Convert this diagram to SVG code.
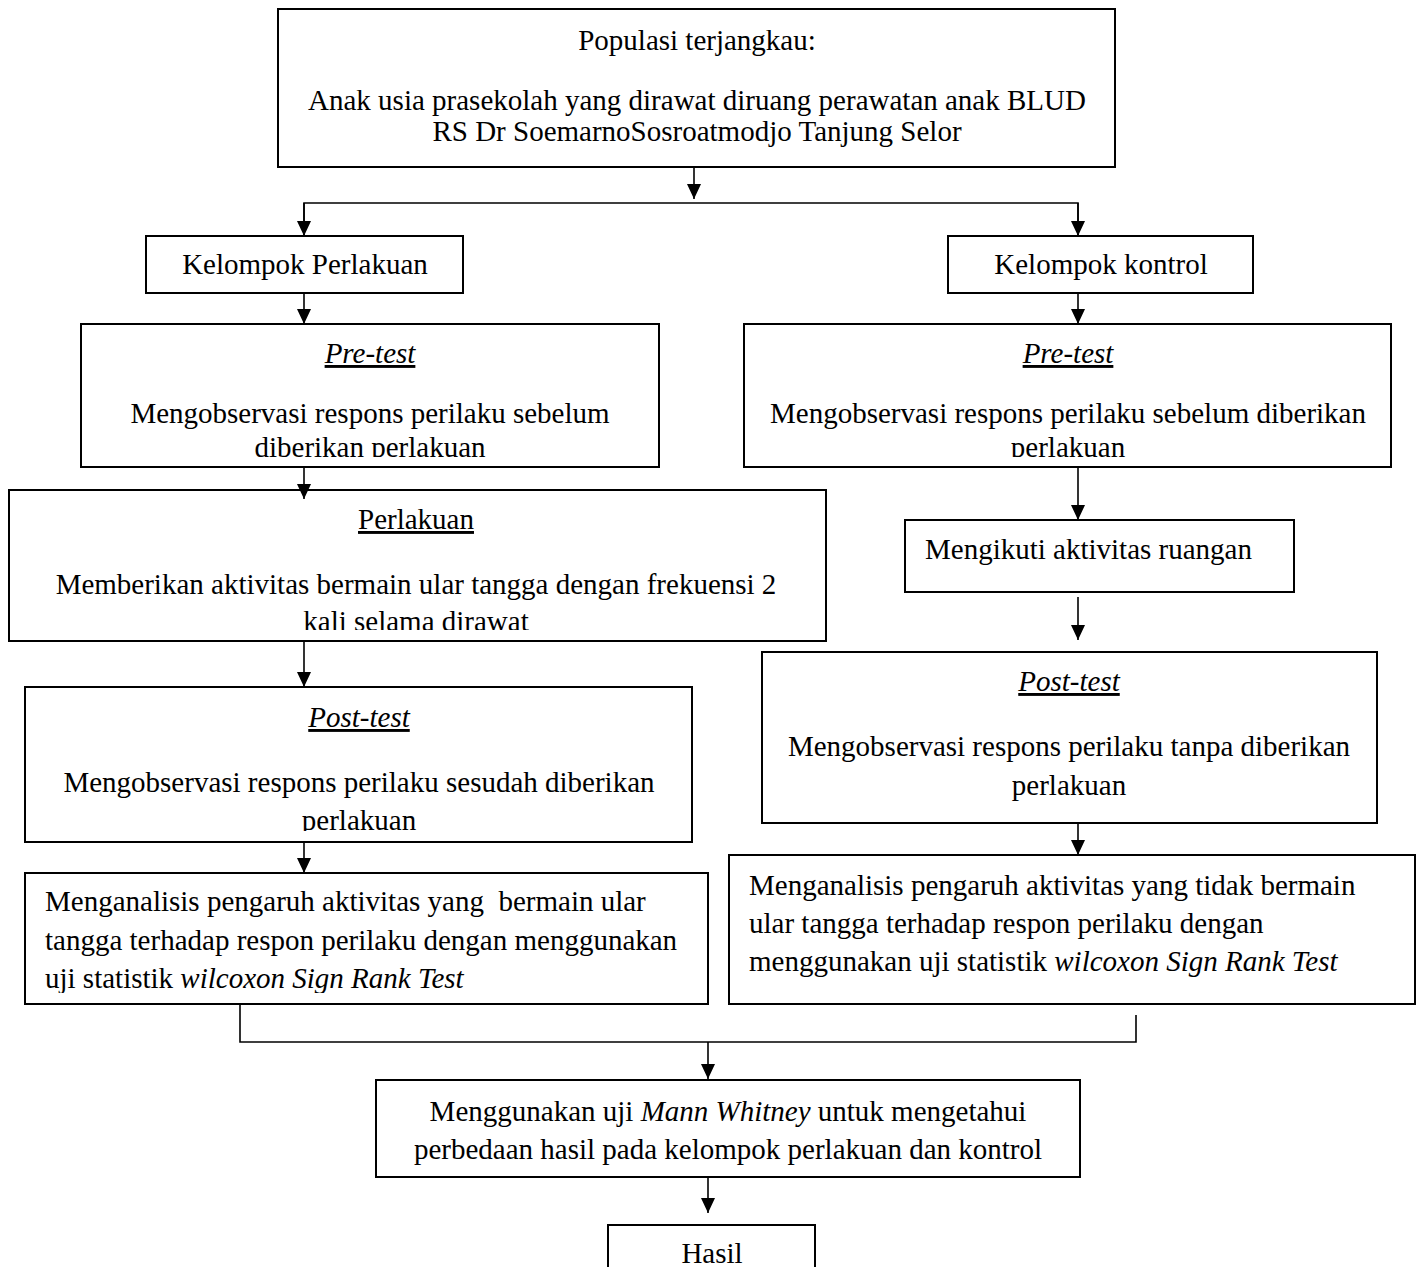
<svg xmlns="http://www.w3.org/2000/svg" width="1419" height="1267" viewBox="0 0 1419 1267">
<style>
.box{fill:#fff;stroke:#000;stroke-width:2}
.t{font-family:"Liberation Serif","Times New Roman",serif;font-size:29px;fill:#000}
.c{text-anchor:middle}
.i{font-style:italic}
.u{text-decoration:underline}
.pre{white-space:pre}
.ln{fill:none;stroke:#000;stroke-width:1.6}
</style>
<defs>
<marker id="ah" markerUnits="userSpaceOnUse" markerWidth="16" markerHeight="16" refX="15" refY="7" orient="auto">
<path d="M0,0 L15,7 L0,14 z" fill="#000"/>
</marker>
<clipPath id="cp1"><rect x="0" y="0" width="1419" height="457"/></clipPath>
<clipPath id="cp2"><rect x="0" y="0" width="1419" height="630"/></clipPath>
<clipPath id="cp3"><rect x="0" y="0" width="1419" height="831"/></clipPath>
<clipPath id="cp4"><rect x="0" y="0" width="1419" height="993"/></clipPath>
</defs>
<rect width="1419" height="1267" fill="#fff"/>

<g id="connectors">
<line class="ln" x1="694" y1="167" x2="694" y2="199" marker-end="url(#ah)"/>
<polyline class="ln" points="304,236 304,203 1078,203 1078,236"/>
<line class="ln" x1="304" y1="203" x2="304" y2="236" marker-end="url(#ah)"/>
<line class="ln" x1="1078" y1="203" x2="1078" y2="236" marker-end="url(#ah)"/>
<line class="ln" x1="304" y1="293" x2="304" y2="324" marker-end="url(#ah)"/>
<line class="ln" x1="1078" y1="293" x2="1078" y2="324" marker-end="url(#ah)"/>
<line class="ln" x1="1078" y1="467" x2="1078" y2="520" marker-end="url(#ah)"/>
<line class="ln" x1="304" y1="641" x2="304" y2="687" marker-end="url(#ah)"/>
<line class="ln" x1="1078" y1="597" x2="1078" y2="640" marker-end="url(#ah)"/>
<line class="ln" x1="304" y1="842" x2="304" y2="873" marker-end="url(#ah)"/>
<line class="ln" x1="1078" y1="823" x2="1078" y2="855" marker-end="url(#ah)"/>
<polyline class="ln" points="240,1004 240,1042 1136,1042 1136,1015"/>
<line class="ln" x1="708" y1="1042" x2="708" y2="1079" marker-end="url(#ah)"/>
<line class="ln" x1="708" y1="1177" x2="708" y2="1213" marker-end="url(#ah)"/>
</g>

<g id="populasi">
<rect class="box" x="278" y="9" width="837" height="158"/>
<text class="t c" x="697" y="50">Populasi terjangkau:</text>
<text class="t c" x="697" y="110">Anak usia prasekolah yang dirawat diruang perawatan anak BLUD</text>
<text class="t c" x="697" y="141">RS Dr SoemarnoSosroatmodjo Tanjung Selor</text>
</g>

<g id="kelompok-perlakuan">
<rect class="box" x="146" y="236" width="317" height="57"/>
<text class="t c" x="305" y="274">Kelompok Perlakuan</text>
</g>

<g id="kelompok-kontrol">
<rect class="box" x="948" y="236" width="305" height="57"/>
<text class="t c" x="1101" y="274">Kelompok kontrol</text>
</g>

<g id="pretest-perlakuan">
<rect class="box" x="81" y="324" width="578" height="143"/>
<text class="t c i u" x="370" y="363">Pre-test</text>
<text class="t c" x="370" y="423">Mengobservasi respons perilaku sebelum</text>
<text class="t c" x="370" y="457" clip-path="url(#cp1)">diberikan perlakuan</text>
</g>

<g id="pretest-kontrol">
<rect class="box" x="744" y="324" width="647" height="143"/>
<text class="t c i u" x="1068" y="363">Pre-test</text>
<text class="t c" x="1068" y="423">Mengobservasi respons perilaku sebelum diberikan</text>
<text class="t c" x="1068" y="457" clip-path="url(#cp1)">perlakuan</text>
</g>

<g id="perlakuan">
<rect class="box" x="9" y="490" width="817" height="151"/>
<text class="t c u" x="416" y="529">Perlakuan</text>
<text class="t c" x="416" y="594">Memberikan aktivitas bermain ular tangga dengan frekuensi 2</text>
<text class="t c" x="416" y="631" clip-path="url(#cp2)">kali selama dirawat</text>
</g>
<line class="ln" x1="304" y1="467" x2="304" y2="499" marker-end="url(#ah)"/>

<g id="aktivitas-ruangan">
<rect class="box" x="905" y="520" width="389" height="72"/>
<text class="t" x="925" y="559">Mengikuti aktivitas ruangan</text>
</g>

<g id="posttest-perlakuan">
<rect class="box" x="25" y="687" width="667" height="155"/>
<text class="t c i u" x="359" y="727">Post-test</text>
<text class="t c" x="359" y="792">Mengobservasi respons perilaku sesudah diberikan</text>
<text class="t c" x="359" y="830" clip-path="url(#cp3)">perlakuan</text>
</g>

<g id="posttest-kontrol">
<rect class="box" x="762" y="652" width="615" height="171"/>
<text class="t c i u" x="1069" y="691">Post-test</text>
<text class="t c" x="1069" y="756">Mengobservasi respons perilaku tanpa diberikan</text>
<text class="t c" x="1069" y="795">perlakuan</text>
</g>

<g id="analisis-perlakuan">
<rect class="box" x="25" y="873" width="683" height="131"/>
<text class="t pre" x="45" y="911">Menganalisis pengaruh aktivitas yang  bermain ular</text>
<text class="t" x="45" y="950">tangga terhadap respon perilaku dengan menggunakan</text>
<text class="t" x="45" y="988" clip-path="url(#cp4)">uji statistik <tspan class="i">wilcoxon Sign Rank Test</tspan></text>
</g>

<g id="analisis-kontrol">
<rect class="box" x="729" y="855" width="686" height="149"/>
<text class="t" x="749" y="895">Menganalisis pengaruh aktivitas yang tidak bermain</text>
<text class="t" x="749" y="933">ular tangga terhadap respon perilaku dengan</text>
<text class="t" x="749" y="971">menggunakan uji statistik <tspan class="i">wilcoxon Sign Rank Test</tspan></text>
</g>

<g id="mann-whitney">
<rect class="box" x="376" y="1080" width="704" height="97"/>
<text class="t c" x="728" y="1121">Menggunakan uji <tspan class="i">Mann Whitney</tspan> untuk mengetahui</text>
<text class="t c" x="728" y="1159">perbedaan hasil pada kelompok perlakuan dan kontrol</text>
</g>

<g id="hasil">
<rect class="box" x="608" y="1225" width="207" height="60"/>
<text class="t c" x="712" y="1263">Hasil</text>
</g>
</svg>
